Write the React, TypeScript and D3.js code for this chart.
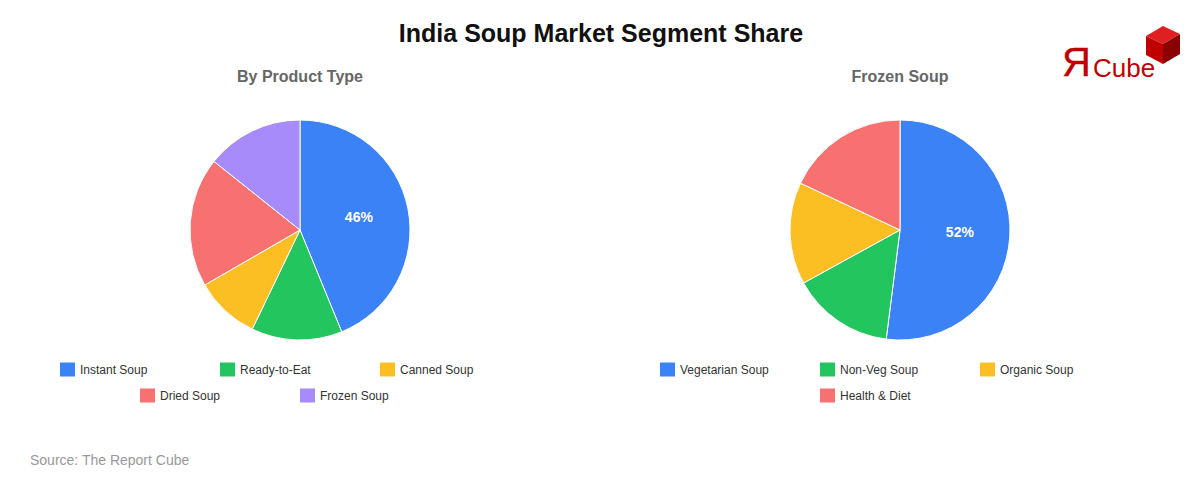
import React from "react";
import * as d3 from "d3";

const productLabels = ["Instant Soup", "Ready-to-Eat", "Canned Soup", "Dried Soup", "Frozen Soup"];
const productValues = [46, 14, 10, 20, 15];
const frozenLabels = ["Vegetarian Soup", "Non-Veg Soup", "Organic Soup", "Health & Diet"];
const frozenValues = [52, 15, 15, 18];
const palette = ["#3b82f6", "#22c55e", "#fbbf24", "#f87171", "#a78bfa"];

const W = 1200;
const H = 480;
const FONT = "Liberation Sans, Arial, Helvetica, sans-serif";

function Pie({ cx, title, labels, values }: { cx: number; title: string; labels: string[]; values: number[] }) {
  const cy = 230;
  const r = 110;
  const pie = d3.pie<number>().value((d) => d).sort(null);
  const arcs = pie(values);
  const arcGen = d3.arc<d3.PieArcDatum<number>>().innerRadius(0).outerRadius(r);
  const labelArc = d3.arc<d3.PieArcDatum<number>>().innerRadius(60).outerRadius(60);
  const maxIdx = values.indexOf(Math.max(...values));

  const colW = 160;
  const perRow = 3;
  const rows: number[][] = [];
  labels.forEach((_, i) => {
    const row = Math.floor(i / perRow);
    if (!rows[row]) rows[row] = [];
    rows[row].push(i);
  });

  return (
    <g>
      <text x={cx} y={78} textAnchor="middle" dominantBaseline="middle" fontFamily={FONT} fontWeight="bold" fontSize={16} fill="#666">
        {title}
      </text>
      <g transform={`translate(${cx},${cy})`}>
        {arcs.map((a, i) => (
          <path key={i} d={arcGen(a) || ""} fill={palette[i]} stroke="#fff" strokeWidth={1} />
        ))}
        {arcs.map((a, i) => {
          if (i !== maxIdx) return null;
          const [lx, ly] = labelArc.centroid(a);
          return (
            <text key={"l" + i} x={lx} y={ly} textAnchor="middle" dominantBaseline="middle" fontFamily={FONT} fontWeight="bold" fontSize={14} fill="#fff">
              {values[i]}%
            </text>
          );
        })}
      </g>
      {rows.map((row, ri) => {
        const totalW = row.length * colW;
        const x0 = cx - totalW / 2;
        const y = 369.5 + ri * 26;
        return row.map((idx, k) => (
          <g key={idx} transform={`translate(${x0 + k * colW},${y})`}>
            <rect x={0} y={-7} width={15} height={14} fill={palette[idx]} />
            <text x={20} y={1} dominantBaseline="middle" fontFamily={FONT} fontSize={12} fill="#333">
              {labels[idx]}
            </text>
          </g>
        ));
      })}
    </g>
  );
}

function Logo() {
  return (
    <g>
      <text x={1062} y={76} fontFamily={FONT} fontSize={40} fill="#c00000" stroke="#c00000" strokeWidth={0.3}>Я</text>
      <text x={1093} y={77} fontFamily={FONT} fontSize={26} fill="#c00000">Cube</text>
      <polygon points="1146,36 1163,26 1180,34 1163,44" fill="#e02020" />
      <polygon points="1146,36 1163,44 1163,64 1146,55" fill="#c00000" />
      <polygon points="1163,44 1180,34 1180,54 1163,64" fill="#8b0000" />
    </g>
  );
}

export default function App() {
  return (
    <svg width={W} height={H} style={{ position: "absolute", left: 0, top: 0, background: "#fff" }}>
      <rect width={W} height={H} fill="#fff" />
      <text x={601} y={42} textAnchor="middle" fontFamily={FONT} fontWeight="bold" fontSize={25} fill="#111">
        India Soup Market Segment Share
      </text>
      <Logo />
      <Pie cx={300} title="By Product Type" labels={productLabels} values={productValues} />
      <Pie cx={900} title="Frozen Soup" labels={frozenLabels} values={frozenValues} />
      <text x={30} y={461} dominantBaseline="middle" fontFamily={FONT} fontSize={14} fill="#999">
        Source: The Report Cube
      </text>
    </svg>
  );
}
